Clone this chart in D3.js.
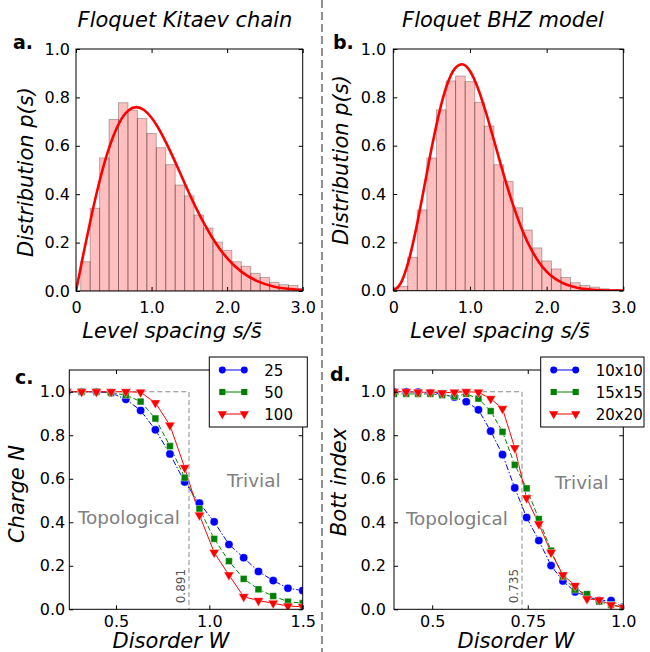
<!DOCTYPE html>
<html>
<head>
<meta charset="utf-8">
<script src="https://cdn.jsdelivr.net/npm/d3@7"></script>
<style>
body { margin: 0; background: #fff; }
text { font-family: "DejaVu Sans", sans-serif; }
</style>
</head>
<body>
<div id="chart"></div>
<script>
// level spacing histograms (bin centres, bin width 0.125)
var sBins = [0.125, 0.25, 0.375, 0.5, 0.625, 0.75, 0.875, 1.0, 1.125, 1.25, 1.375, 1.5,
             1.625, 1.75, 1.875, 2.0, 2.125, 2.25, 2.375, 2.5, 2.625, 2.75, 2.875, 3.0];
var kitaevHist = [0.121, 0.342, 0.55, 0.709, 0.778, 0.747, 0.713, 0.651, 0.592, 0.522, 0.438, 0.393,
                  0.314, 0.26, 0.202, 0.168, 0.121, 0.102, 0.073, 0.056, 0.036, 0.026, 0.023, 0.01];
var bhzHist = [0.018, 0.138, 0.334, 0.549, 0.748, 0.868, 0.888, 0.865, 0.779, 0.681, 0.521, 0.452,
               0.343, 0.251, 0.177, 0.123, 0.09, 0.055, 0.033, 0.022, 0.015, 0.008, 0.005, 0.003];

// fitted curves
var curveS = [0, 0.1, 0.2, 0.3, 0.4, 0.5, 0.6, 0.7, 0.8, 0.9, 1.0, 1.1, 1.2, 1.3, 1.4, 1.5,
              1.6, 1.7, 1.8, 1.9, 2.0, 2.2, 2.4, 2.6, 2.8, 3.0];
var kitaevCurve = [0, 0.156, 0.304, 0.439, 0.554, 0.645, 0.71, 0.748, 0.76, 0.748, 0.716, 0.668, 0.608,
                   0.542, 0.472, 0.402, 0.336, 0.276, 0.222, 0.175, 0.136, 0.077, 0.041, 0.02, 0.009, 0.004];
var bhzCurve = [0, 0.032, 0.123, 0.26, 0.423, 0.59, 0.738, 0.851, 0.918, 0.937, 0.909, 0.841, 0.746,
                0.637, 0.524, 0.416, 0.32, 0.237, 0.17, 0.118, 0.079, 0.033, 0.012, 0.004, 0.001, 0.0003];

// charge N vs disorder (Kitaev chain)
var wKitaev = [0.237, 0.316, 0.395, 0.474, 0.553, 0.632, 0.711, 0.789, 0.868, 0.947, 1.026, 1.105,
               1.184, 1.263, 1.342, 1.421, 1.5];
var charge25 = [1.0, 1.0, 1.0, 0.995, 0.965, 0.914, 0.825, 0.714, 0.585, 0.488, 0.402, 0.298,
                0.237, 0.174, 0.132, 0.097, 0.086];
var charge50 = [1.0, 1.0, 1.0, 0.995, 0.985, 0.955, 0.877, 0.75, 0.605, 0.462, 0.324, 0.221,
                0.14, 0.092, 0.061, 0.035, 0.028];
var charge100 = [1.0, 1.0, 1.0, 1.0, 1.0, 0.998, 0.949, 0.846, 0.651, 0.433, 0.261, 0.158,
                 0.058, 0.04, 0.028, 0.015, 0.012];

// Bott index vs disorder (BHZ model)
var wBhz = [0.4, 0.432, 0.463, 0.495, 0.526, 0.558, 0.589, 0.621, 0.653, 0.684, 0.716, 0.747,
            0.779, 0.811, 0.842, 0.874, 0.905, 0.937, 0.968, 1.0];
var bott10 = [1.0, 1.0, 0.998, 0.995, 0.99, 0.975, 0.954, 0.917, 0.819, 0.711, 0.558, 0.422,
              0.316, 0.201, 0.13, 0.08, 0.06, 0.04, 0.04, 0.01];
var bott15 = [0.99, 0.99, 0.99, 0.99, 0.985, 0.978, 0.99, 0.968, 0.911, 0.816, 0.664, 0.556,
              0.415, 0.27, 0.15, 0.09, 0.07, 0.035, 0.02, 0.01];
var bott20 = [1.0, 1.0, 0.998, 0.998, 0.995, 0.998, 1.0, 0.998, 0.968, 0.922, 0.742, 0.512,
              0.392, 0.261, 0.158, 0.109, 0.048, 0.043, 0.02, 0.009];

// tick values
var sTicks = [0, 1, 2, 3];
var pTicks = [0, 0.2, 0.4, 0.6, 0.8, 1.0];
var wTicksKitaev = [0.5, 1.0, 1.5];
var wTicksBhz = [0.5, 0.75, 1.0];

var labelsKitaev = ["25", "50", "100"];
var labelsBhz = ["10x10", "15x15", "20x20"];
var seriesColors = ["#0000ff", "#008000", "#ff0000"];
var seriesDash = ["6,2,1.5,2", "5,2.5", null];
var seriesSymbols = [d3.symbolCircle, d3.symbolSquare, d3.symbolTriangle];

var svg = d3.select("#chart").append("svg")
  .attr("width", 650)
  .attr("height", 652);

var clipN = 0;

function frame(sx, sy, xt, xfmt, yt, xpad, ypad) {
  var xr = sx.range(), yr = sy.range();
  var g = svg.append("g");
  g.append("g").attr("transform", "translate(0," + yr[0] + ")")
    .call(d3.axisBottom(sx).tickValues(xt).tickFormat(xfmt).tickSizeInner(-4).tickSizeOuter(0).tickPadding(xpad));
  g.append("g").attr("transform", "translate(0," + yr[1] + ")")
    .call(d3.axisTop(sx).tickValues(xt).tickFormat("").tickSizeInner(-4).tickSizeOuter(0));
  g.append("g").attr("transform", "translate(" + xr[0] + ",0)")
    .call(d3.axisLeft(sy).tickValues(yt).tickFormat(d3.format(".1f")).tickSizeInner(-4).tickSizeOuter(0).tickPadding(ypad));
  g.append("g").attr("transform", "translate(" + xr[1] + ",0)")
    .call(d3.axisRight(sy).tickValues(yt).tickFormat("").tickSizeInner(-4).tickSizeOuter(0));
  g.selectAll(".domain").remove();
  g.selectAll(".tick line").attr("stroke", "#000");
  g.selectAll(".tick text").attr("font-size", 16).attr("fill", "#000")
    .attr("font-family", "DejaVu Sans, sans-serif");
  g.append("rect")
    .attr("x", xr[0]).attr("y", yr[1])
    .attr("width", xr[1] - xr[0]).attr("height", yr[0] - yr[1])
    .attr("fill", "none").attr("stroke", "#000").attr("stroke-width", 1);
}

function clip(sx, sy) {
  var id = "clip" + (clipN++);
  var xr = sx.range(), yr = sy.range();
  svg.append("clipPath").attr("id", id).append("rect")
    .attr("x", xr[0]).attr("y", yr[1])
    .attr("width", xr[1] - xr[0]).attr("height", yr[0] - yr[1]);
  return "url(#" + id + ")";
}

function label(x, y, txt, size, opts) {
  var t = svg.append("text").attr("x", x).attr("y", y).text(txt)
    .attr("font-size", size).attr("fill", opts.fill || "#000")
    .attr("text-anchor", opts.anchor || "middle");
  if (opts.italic) t.attr("font-style", "italic");
  if (opts.bold) t.attr("font-weight", "bold");
  if (opts.rotate) t.attr("transform", "rotate(-90," + x + "," + y + ")");
  return t;
}

function histPanel(x0, x1, y0, y1, hist, curve, ypad) {
  var x = d3.scaleLinear().domain([0, 3]).range([x0, x1]);
  var y = d3.scaleLinear().domain([0, 1]).range([y0, y1]);
  var g = svg.append("g").attr("clip-path", clip(x, y));
  g.selectAll("rect")
    .data(hist)
    .enter()
    .append("rect")
    .attr("x", function(d, i) { return x(sBins[i] - 0.0625); })
    .attr("y", function(d) { return y(d); })
    .attr("width", function(d, i) { return x(sBins[i] + 0.0625) - x(sBins[i] - 0.0625); })
    .attr("height", function(d) { return y(0) - y(d); })
    .attr("fill", "#ff0000").attr("fill-opacity", 0.25)
    .attr("stroke", "#000").attr("stroke-opacity", 0.28).attr("stroke-width", 1);
  var line = d3.line()
    .x(function(d, i) { return x(curveS[i]); })
    .y(function(d) { return y(d); })
    .curve(d3.curveMonotoneX);
  g.append("path").datum(curve)
    .attr("d", line)
    .attr("fill", "none").attr("stroke", "#ff0000").attr("stroke-width", 2.6);
  frame(x, y, sTicks, function(d) { return d === 0 ? "0" : d3.format(".1f")(d); },
        pTicks, 11, ypad);
}

function sweepPanel(x, y, ws, series, labels, xt, xfmt, crit, critLabel, legX, legW, ypad) {
  var y1 = y(1);
  var cp = clip(x, y);
  // threshold guide
  svg.append("path")
    .attr("d", "M" + x.range()[0] + "," + y1 + "H" + x(crit) + "V" + y(0))
    .attr("fill", "none").attr("stroke", "#888").attr("stroke-width", 1)
    .attr("stroke-dasharray", "5,3");
  label(x(crit) - 4, y(0) - 6, critLabel, 12, {fill: "#555", anchor: "start", rotate: true});

  var g = svg.append("g").attr("clip-path", cp);
  series.forEach(function(vals, k) {
    var line = d3.line()
      .x(function(d, i) { return x(ws[i]); })
      .y(function(d) { return y(d); });
    g.append("path").datum(vals)
      .attr("d", line)
      .attr("fill", "none").attr("stroke", seriesColors[k]).attr("stroke-width", 1)
      .attr("stroke-dasharray", seriesDash[k]);
  });
  series.forEach(function(vals, k) {
    var sym = d3.symbol().type(seriesSymbols[k]).size(k === 2 ? 44 : (k === 1 ? 46 : 52));
    g.selectAll(null)
      .data(vals)
      .enter()
      .append("path")
      .attr("d", sym)
      .attr("transform", function(d, i) {
        return "translate(" + x(ws[i]) + "," + y(d) + ")" + (k === 2 ? " rotate(180)" : "");
      })
      .attr("fill", seriesColors[k])
      .attr("stroke", "#fff").attr("stroke-width", 0.4);
  });

  frame(x, y, xt, xfmt, pTicks, 6, ypad);

  // legend
  var lg = svg.append("g");
  lg.append("rect")
    .attr("x", legX).attr("y", 357)
    .attr("width", legW).attr("height", 70)
    .attr("fill", "#fff").attr("stroke", "#000").attr("stroke-width", 1);
  labels.forEach(function(name, k) {
    var ly = 370 + k * 22;
    var a = legX + 13, b = legX + 35;
    lg.append("line")
      .attr("x1", a).attr("x2", b).attr("y1", ly).attr("y2", ly)
      .attr("stroke", seriesColors[k]).attr("stroke-width", 1);
    var sym = d3.symbol().type(seriesSymbols[k]).size(k === 2 ? 36 : 38);
    [a, b].forEach(function(px) {
      lg.append("path").attr("d", sym)
        .attr("transform", "translate(" + px + "," + ly + ")" + (k === 2 ? " rotate(180)" : ""))
        .attr("fill", seriesColors[k]);
    });
    lg.append("text")
      .attr("x", legX + 55).attr("y", ly + 5.5)
      .attr("font-size", 15).text(name);
  });
}

// panel a
histPanel(76, 302.7, 291, 49, kitaevHist, kitaevCurve, 6);
// panel b
histPanel(393.3, 623.3, 290.7, 49, bhzHist, bhzCurve, 7);

// panel c
var xc = d3.scaleLinear().domain([0.25, 1.5]).range([69.3, 302.7]);
var yc = d3.scaleLinear().domain([0, 1.1]).range([609.3, 370]);
label(78, 524, "Topological", 18.4, {fill: "#808080", anchor: "start"});
label(227, 487, "Trivial", 18.4, {fill: "#808080", anchor: "start"});
sweepPanel(xc, yc, wKitaev, [charge25, charge50, charge100], labelsKitaev,
           wTicksKitaev, d3.format(".1f"), 0.891, "0.891", 209.3, 98, 4);

// panel d
var xd = d3.scaleLinear().domain([0.4, 1.0]).range([394, 623.3]);
var yd = d3.scaleLinear().domain([0, 1.1]).range([609.3, 370]);
label(406, 525, "Topological", 18.4, {fill: "#808080", anchor: "start"});
label(555, 489, "Trivial", 18.4, {fill: "#808080", anchor: "start"});
sweepPanel(xd, yd, wBhz, [bott10, bott15, bott20], labelsBhz,
           wTicksBhz, function(d) { return d === 0.75 ? "0.75" : d3.format(".1f")(d); },
           0.735, "0.735", 540.7, 103.3, 8);

// titles and axis labels
label(185, 27, "Floquet Kitaev chain", 21, {italic: true});
label(503, 27, "Floquet BHZ model", 21, {italic: true});
label(13, 49, "a.", 19, {bold: true, anchor: "start"});
label(333, 49, "b.", 19, {bold: true, anchor: "start"});
label(15, 384, "c.", 19, {bold: true, anchor: "start"});
label(330, 381, "d.", 19, {bold: true, anchor: "start"});

label(172, 338, "Level spacing s/s\u0304", 21, {italic: true});
label(500, 338, "Level spacing s/s\u0304", 21, {italic: true});
label(33, 172, "Distribution p(s)", 21, {italic: true, rotate: true});
label(348, 160, "Distribution p(s)", 21, {italic: true, rotate: true});
label(171, 648, "Disorder W", 21, {italic: true});
label(516, 648, "Disorder W", 21, {italic: true});
label(24, 494, "Charge N", 21, {italic: true, rotate: true});
label(346, 482, "Bott index", 21, {italic: true, rotate: true});

// separator between the two models
svg.append("line")
  .attr("x1", 322).attr("x2", 322).attr("y1", 0).attr("y2", 652)
  .attr("stroke", "#555").attr("stroke-width", 1.3)
  .attr("stroke-dasharray", "8,4");
</script>
</body>
</html>
